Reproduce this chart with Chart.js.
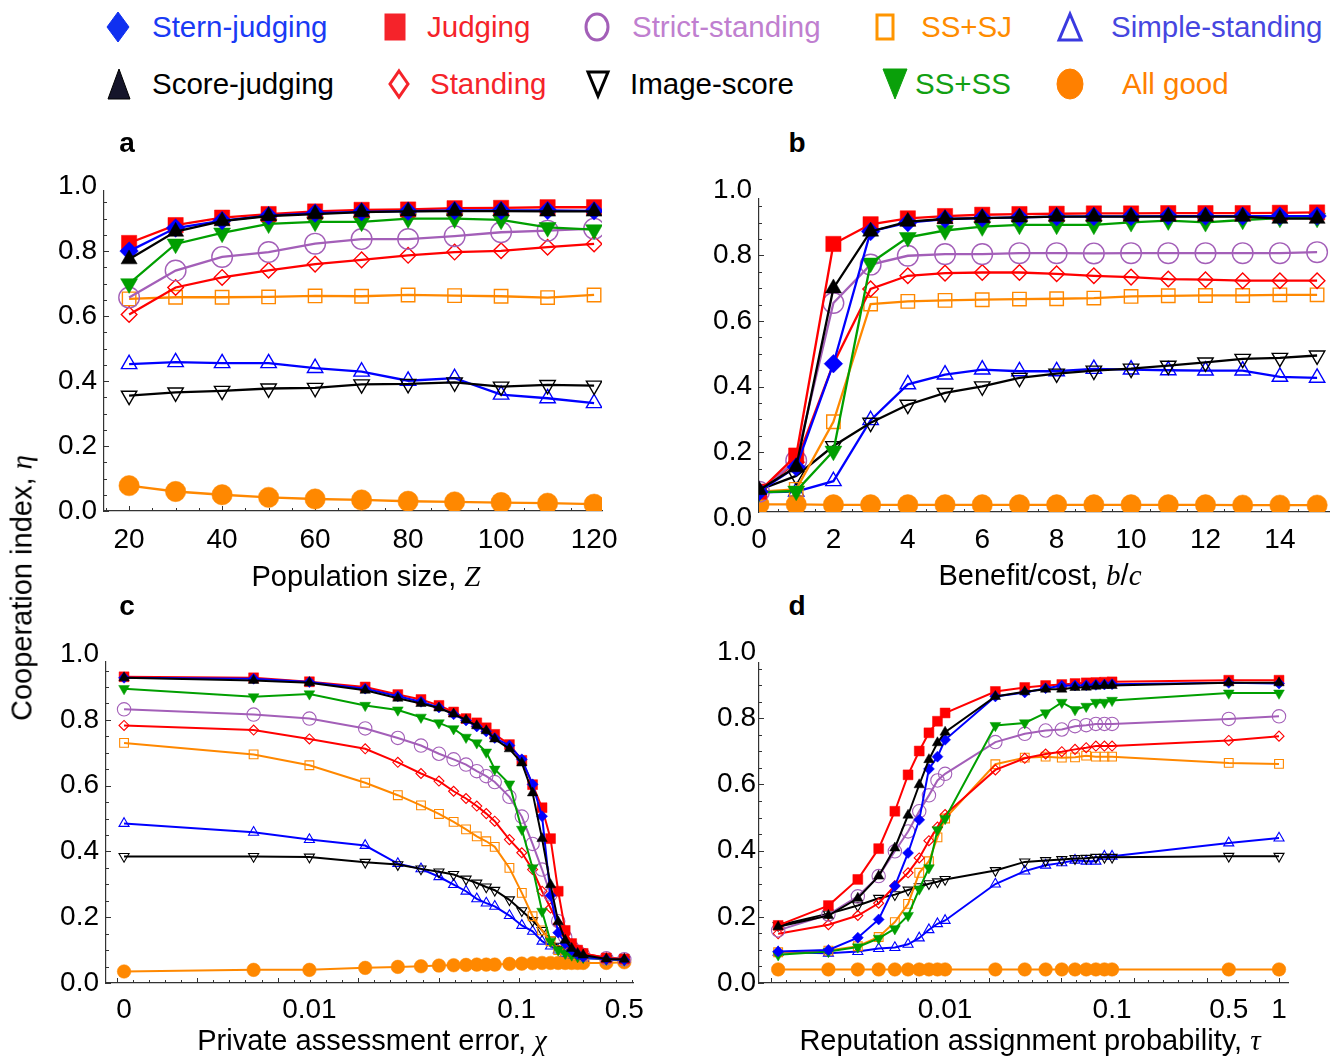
<!DOCTYPE html>
<html>
<head>
<meta charset="utf-8">
<title>Cooperation index</title>
<script src="https://cdn.jsdelivr.net/npm/chart.js@4.4.0/dist/chart.umd.min.js"></script>
<style>
  body { margin: 0; background: #fff; width: 1342px; height: 1057px; overflow: hidden; position: relative;
         font-family: "Liberation Sans", Arial, Helvetica, sans-serif; }
  canvas { position: absolute; }
  .txt { position: absolute; white-space: nowrap; transform: translate(-50%, -50%); font-size: 29px; color: #000; }
  .panel { font-weight: bold; font-size: 28px; }
  .math { font-family: "Liberation Serif", "Times New Roman", serif; font-style: italic; }
  .leg { position: absolute; white-space: nowrap; font-size: 29.5px; transform: translateY(-50%); }
  .mark { position: absolute; overflow: visible; }
</style>
</head>
<body>
<div id="legend"></div>
<canvas id="chart-a"></canvas>
<canvas id="chart-b"></canvas>
<canvas id="chart-c"></canvas>
<canvas id="chart-d"></canvas>

<div class="txt panel" style="left:127px; top:143px">a</div>
<div class="txt panel" style="left:797px; top:143px">b</div>
<div class="txt panel" style="left:127px; top:606px">c</div>
<div class="txt panel" style="left:797px; top:606px">d</div>

<div class="txt" style="left:366px; top:576px">Population size, <span class="math">Z</span></div>
<div class="txt" style="left:1040px; top:575px">Benefit/cost, <span class="math">b</span>/<span class="math">c</span></div>
<div class="txt" style="left:372px; top:1040px">Private assessment error, <span class="math">χ</span></div>
<div class="txt" style="left:1030px; top:1040px">Reputation assignment probability, <span class="math">τ</span></div>
<div class="txt" style="left:22px; top:588px; transform: translate(-50%, -50%) rotate(-90deg)">Cooperation index, <span class="math">η</span></div>

<script>
// x values of the four panels
const popSize = [20, 30, 40, 50, 60, 70, 80, 90, 100, 110, 120];
const benefitCost = [0, 1, 2, 3, 4, 5, 6, 7, 8, 9, 10, 11, 12, 13, 14, 15];
const chiErr = [0, 0.005, 0.01, 0.02, 0.03, 0.04, 0.05, 0.06, 0.07, 0.08, 0.09, 0.1,
                0.12, 0.14, 0.16, 0.18, 0.2, 0.22, 0.24, 0.26, 0.28, 0.3, 0.4, 0.5];
const tauProb = [0.001, 0.002, 0.003, 0.004, 0.005, 0.006, 0.007, 0.008, 0.009, 0.01,
                 0.02, 0.03, 0.04, 0.05, 0.06, 0.07, 0.08, 0.09, 0.1, 0.5, 1];
// on the log axis of panel c, chi = 0 is drawn where 0.001 would be
const chiZeroAt = 0.001;

// panel a - population size
const aStern    = [0.80, 0.871, 0.894, 0.909, 0.917, 0.921, 0.923, 0.925, 0.925, 0.925, 0.924];
const aJudging  = [0.825, 0.88, 0.903, 0.914, 0.922, 0.927, 0.928, 0.932, 0.933, 0.935, 0.935];
const aStrict   = [0.657, 0.74, 0.782, 0.797, 0.823, 0.837, 0.837, 0.846, 0.858, 0.863, 0.869];
const aSSSJ     = [0.653, 0.658, 0.658, 0.659, 0.662, 0.661, 0.665, 0.663, 0.661, 0.657, 0.665];
const aSimple   = [0.452, 0.458, 0.455, 0.455, 0.44, 0.429, 0.401, 0.409, 0.358, 0.347, 0.332];
const aScore    = [0.775, 0.86, 0.892, 0.908, 0.914, 0.92, 0.922, 0.923, 0.923, 0.922, 0.922];
const aStanding = [0.605, 0.688, 0.719, 0.741, 0.76, 0.773, 0.787, 0.797, 0.801, 0.812, 0.822];
const aImage    = [0.355, 0.365, 0.37, 0.377, 0.379, 0.39, 0.391, 0.396, 0.383, 0.388, 0.386];
const aSSSS     = [0.70, 0.822, 0.856, 0.884, 0.89, 0.89, 0.9, 0.9, 0.896, 0.873, 0.866];
const aAllGood  = [0.078, 0.06, 0.05, 0.042, 0.037, 0.034, 0.03, 0.028, 0.026, 0.024, 0.021];

// panel b - benefit/cost
const bStern    = [0.08, 0.155, 0.47, 0.873, 0.9, 0.911, 0.914, 0.916, 0.918, 0.919, 0.919, 0.92, 0.92, 0.92, 0.92, 0.92];
const bJudging  = [0.08, 0.19, 0.835, 0.895, 0.913, 0.92, 0.924, 0.926, 0.927, 0.928, 0.928, 0.929, 0.929, 0.929, 0.93, 0.931];
const bStrict   = [0.08, 0.175, 0.655, 0.772, 0.799, 0.804, 0.804, 0.807, 0.807, 0.806, 0.807, 0.807, 0.807, 0.807, 0.807, 0.81];
const bSSSJ     = [0.08, 0.087, 0.293, 0.652, 0.66, 0.663, 0.665, 0.667, 0.668, 0.67, 0.675, 0.677, 0.678, 0.678, 0.68, 0.68];
const bSimple   = [0.078, 0.08, 0.112, 0.298, 0.407, 0.437, 0.452, 0.447, 0.447, 0.454, 0.452, 0.45, 0.449, 0.449, 0.43, 0.427];
const bScore    = [0.085, 0.155, 0.70, 0.873, 0.903, 0.911, 0.914, 0.916, 0.918, 0.918, 0.918, 0.918, 0.918, 0.918, 0.912, 0.912];
const bStanding = [0.08, 0.17, 0.47, 0.698, 0.738, 0.746, 0.748, 0.748, 0.744, 0.738, 0.734, 0.728, 0.726, 0.723, 0.723, 0.723];
const bImage    = [0.085, 0.128, 0.219, 0.29, 0.345, 0.381, 0.401, 0.427, 0.44, 0.449, 0.455, 0.464, 0.474, 0.485, 0.488, 0.495];
const bSSSS     = [0.078, 0.082, 0.204, 0.777, 0.855, 0.876, 0.888, 0.893, 0.893, 0.893, 0.901, 0.906, 0.901, 0.908, 0.914, 0.914];
const bAllGood  = [0.041, 0.041, 0.04, 0.04, 0.04, 0.04, 0.04, 0.04, 0.04, 0.04, 0.04, 0.04, 0.04, 0.039, 0.039, 0.039];

// panel c - private assessment error
const cStern    = [0.928, 0.925, 0.915, 0.895, 0.872, 0.855, 0.838, 0.817, 0.798, 0.78, 0.765, 0.745, 0.722, 0.68, 0.604, 0.507, 0.266, 0.153, 0.12, 0.1, 0.087, 0.08, 0.072, 0.07];
const cJudging  = [0.931, 0.928, 0.916, 0.9, 0.877, 0.862, 0.844, 0.824, 0.804, 0.791, 0.776, 0.756, 0.725, 0.677, 0.603, 0.533, 0.439, 0.279, 0.16, 0.12, 0.1, 0.09, 0.076, 0.073];
const cStrict   = [0.832, 0.816, 0.804, 0.774, 0.745, 0.722, 0.697, 0.68, 0.664, 0.644, 0.629, 0.611, 0.566, 0.506, 0.423, 0.345, 0.269, 0.188, 0.14, 0.11, 0.095, 0.085, 0.075, 0.072];
const cSSSJ     = [0.73, 0.695, 0.662, 0.609, 0.571, 0.54, 0.514, 0.49, 0.467, 0.446, 0.431, 0.414, 0.35, 0.274, 0.203, 0.16, 0.127, 0.1, 0.09, 0.085, 0.08, 0.078, 0.072, 0.07];
const cSimple   = [0.485, 0.458, 0.436, 0.418, 0.363, 0.347, 0.323, 0.299, 0.279, 0.256, 0.243, 0.233, 0.205, 0.175, 0.157, 0.127, 0.112, 0.1, 0.09, 0.085, 0.08, 0.075, 0.072, 0.07];
const cScore    = [0.928, 0.92, 0.913, 0.89, 0.866, 0.85, 0.836, 0.818, 0.8, 0.782, 0.767, 0.742, 0.712, 0.669, 0.578, 0.439, 0.299, 0.186, 0.13, 0.105, 0.09, 0.085, 0.073, 0.072];
const cStanding = [0.783, 0.769, 0.742, 0.712, 0.671, 0.637, 0.614, 0.583, 0.561, 0.538, 0.515, 0.492, 0.436, 0.396, 0.345, 0.279, 0.228, 0.18, 0.15, 0.12, 0.1, 0.09, 0.077, 0.073];
const cImage    = [0.385, 0.385, 0.383, 0.367, 0.36, 0.347, 0.338, 0.33, 0.316, 0.304, 0.292, 0.282, 0.253, 0.22, 0.19, 0.16, 0.131, 0.112, 0.1, 0.09, 0.085, 0.08, 0.075, 0.072];
const cSSSS     = [0.895, 0.87, 0.879, 0.844, 0.83, 0.808, 0.791, 0.773, 0.747, 0.73, 0.702, 0.65, 0.605, 0.467, 0.35, 0.218, 0.127, 0.1, 0.09, 0.085, 0.08, 0.078, 0.072, 0.07];
const cAllGood  = [0.035, 0.04, 0.04, 0.046, 0.049, 0.051, 0.053, 0.054, 0.055, 0.056, 0.056, 0.056, 0.058, 0.059, 0.06, 0.061, 0.061, 0.061, 0.061, 0.061, 0.061, 0.061, 0.061, 0.063];

// panel d - reputation assignment probability
const dStern    = [0.095, 0.1, 0.137, 0.192, 0.293, 0.393, 0.493, 0.647, 0.684, 0.735, 0.866, 0.878, 0.891, 0.898, 0.899, 0.9, 0.901, 0.902, 0.903, 0.907, 0.905];
const dJudging  = [0.174, 0.234, 0.313, 0.406, 0.519, 0.629, 0.701, 0.756, 0.791, 0.816, 0.881, 0.893, 0.899, 0.902, 0.905, 0.907, 0.908, 0.909, 0.91, 0.915, 0.915];
const dStrict   = [0.159, 0.207, 0.262, 0.323, 0.398, 0.458, 0.519, 0.567, 0.612, 0.632, 0.728, 0.753, 0.763, 0.766, 0.776, 0.779, 0.783, 0.783, 0.783, 0.798, 0.806];
const dSSSJ     = [0.093, 0.098, 0.111, 0.139, 0.184, 0.239, 0.333, 0.368, 0.44, 0.497, 0.661, 0.681, 0.684, 0.681, 0.682, 0.687, 0.684, 0.684, 0.684, 0.665, 0.662];
const dSimple   = [0.093, 0.09, 0.095, 0.104, 0.107, 0.117, 0.136, 0.161, 0.179, 0.189, 0.299, 0.338, 0.356, 0.363, 0.371, 0.368, 0.368, 0.383, 0.383, 0.423, 0.438];
const dScore    = [0.17, 0.204, 0.256, 0.323, 0.408, 0.507, 0.599, 0.675, 0.726, 0.758, 0.866, 0.88, 0.888, 0.888, 0.893, 0.894, 0.897, 0.899, 0.899, 0.907, 0.907];
const dStanding = [0.149, 0.176, 0.204, 0.241, 0.294, 0.333, 0.378, 0.43, 0.471, 0.509, 0.644, 0.679, 0.692, 0.699, 0.706, 0.711, 0.716, 0.716, 0.716, 0.733, 0.746];
const dImage    = [0.174, 0.209, 0.234, 0.256, 0.267, 0.281, 0.291, 0.3, 0.306, 0.313, 0.34, 0.366, 0.37, 0.373, 0.376, 0.377, 0.38, 0.38, 0.38, 0.383, 0.383];
const dSSSS     = [0.085, 0.095, 0.109, 0.135, 0.164, 0.204, 0.284, 0.348, 0.463, 0.497, 0.778, 0.786, 0.816, 0.848, 0.826, 0.836, 0.848, 0.848, 0.854, 0.876, 0.876];
const dAllGood  = [0.041, 0.041, 0.041, 0.041, 0.041, 0.041, 0.041, 0.041, 0.041, 0.041, 0.041, 0.041, 0.041, 0.041, 0.041, 0.041, 0.041, 0.041, 0.041, 0.041, 0.041];

const yTickValues = [0, 0.2, 0.4, 0.6, 0.8, 1];
const yTickLabels = ['0.0', '0.2', '0.4', '0.6', '0.8', '1.0'];

const BLUE = '#0000ff', RED = '#ff0000', PURPLE = '#a35fb8', ORANGE = '#ff8800', GREEN = '#009f00', BLACK = '#000000';

// first entry is drawn on top (chart.js draws dataset 0 last)
const strategies = [
    { key: 'score',    label: 'Score-judging',   color: BLACK,  shape: 'triangle', rot: 0,   filled: true },
    { key: 'stern',    label: 'Stern-judging',   color: BLUE,   shape: 'rectRot',  rot: 0,   filled: true },
    { key: 'judging',  label: 'Judging',         color: RED,    shape: 'rect',     rot: 0,   filled: true },
    { key: 'ssss',     label: 'SS+SS',           color: GREEN,  shape: 'triangle', rot: 180, filled: true },
    { key: 'strict',   label: 'Strict-standing', color: PURPLE, shape: 'circle',   rot: 0,   filled: false },
    { key: 'standing', label: 'Standing',        color: RED,    shape: 'rectRot',  rot: 0,   filled: false },
    { key: 'sssj',     label: 'SS+SJ',           color: ORANGE, shape: 'rect',     rot: 0,   filled: false },
    { key: 'image',    label: 'Image-score',     color: BLACK,  shape: 'triangle', rot: 180, filled: false },
    { key: 'simple',   label: 'Simple-standing', color: BLUE,   shape: 'triangle', rot: 0,   filled: false },
    { key: 'allgood',  label: 'All good',        color: ORANGE, shape: 'circle',   rot: 0,   filled: true }
];

const bigMarks   = { score: 9.3, stern: 9.3, judging: 10.8, ssss: 9.8, strict: 10.3, standing: 7.8, sssj: 9.5, image: 8.9, simple: 8.9, allgood: 10.2 };
const smallMarks = { score: 6, stern: 5.5, judging: 7, ssss: 6.2, strict: 6.7, standing: 5, sssj: 6.2, image: 5.8, simple: 5.8, allgood: 6.8 };

const panels = [
    {
        id: 'chart-a', area: { l: 104, r: 602, t: 191, b: 511 }, padR: 24,
        xs: popSize,
        x: { min: 14.6, max: 121.7, minor: 5, major: 20, pad: 12, ticks: [20, 40, 60, 80, 100, 120], labels: ['20', '40', '60', '80', '100', '120'] },
        y: { min: 0, max: 0.985 }, yPad: 7,
        series: { stern: aStern, judging: aJudging, strict: aStrict, sssj: aSSSJ, simple: aSimple, score: aScore, standing: aStanding, image: aImage, ssss: aSSSS, allgood: aAllGood },
        marks: bigMarks, lineWidth: 2.3, openWidth: 1.4
    },
    {
        id: 'chart-b', area: { l: 759, r: 1329, t: 199, b: 512 }, padR: 12,
        xs: benefitCost,
        x: { min: 0, max: 15.32, minor: 0.5, major: 2, pad: 11, ticks: [0, 2, 4, 6, 8, 10, 12, 14], labels: ['0', '2', '4', '6', '8', '10', '12', '14'] },
        // the frame of this panel starts a little above zero, as in the source
        y: { min: 0.018, max: 0.972 }, yPad: 7,
        series: { stern: bStern, judging: bJudging, strict: bStrict, sssj: bSSSJ, simple: bSimple, score: bScore, standing: bStanding, image: bImage, ssss: bSSSS, allgood: bAllGood },
        marks: bigMarks, lineWidth: 2.3, openWidth: 1.4
    },
    {
        id: 'chart-c', area: { l: 106, r: 633, t: 662, b: 983 }, padR: 20,
        xs: chiErr.map(v => Math.log(v === 0 ? chiZeroAt : v)),
        // axis is linear in ln(chi); the "0.1" label sits a little right of its value in the source
        x: { min: -7.132, max: -0.585, minor: 0.2, major: 1, pad: 10,
             ticks: [Math.log(chiZeroAt), Math.log(0.01), -2.03, Math.log(0.5)], labels: ['0', '0.01', '0.1', '0.5'] },
        y: { min: 0, max: 0.976 }, yPad: 7,
        series: { stern: cStern, judging: cJudging, strict: cStrict, sssj: cSSSJ, simple: cSimple, score: cScore, standing: cStanding, image: cImage, ssss: cSSSS, allgood: cAllGood },
        marks: smallMarks, lineWidth: 2, openWidth: 1.1
    },
    {
        id: 'chart-d', area: { l: 759, r: 1288, t: 663, b: 983 }, padR: 30,
        xs: tauProb.map(v => Math.log(v)),
        x: { min: -7.172, max: 0.124, minor: 0.2, major: 1, pad: 10,
             ticks: [Math.log(0.01), Math.log(0.1), Math.log(0.5), Math.log(1)], labels: ['0.01', '0.1', '0.5', '1'] },
        y: { min: 0, max: 0.967 }, yPad: 3,
        series: { stern: dStern, judging: dJudging, strict: dStrict, sssj: dSSSJ, simple: dSimple, score: dScore, standing: dStanding, image: dImage, ssss: dSSSS, allgood: dAllGood },
        marks: smallMarks, lineWidth: 2, openWidth: 1.1
    }
];

// inward frame ticks like the original plots (long major, short minor)
const frameTicks = {
    id: 'frameTicks',
    beforeDatasetsDraw(chart, args, opts) {
        const { ctx, chartArea } = chart;
        const xs = chart.scales.x, ys = chart.scales.y;
        ctx.save();
        ctx.strokeStyle = '#333';
        ctx.lineWidth = 1;
        ctx.beginPath();
        const each = (scale, minor, major, fn) => {
            for (let k = Math.ceil(scale.min / minor - 1e-6); k * minor <= scale.max + 1e-9; k++) {
                const v = k * minor;
                const isMajor = Math.abs(v / major - Math.round(v / major)) < 1e-6;
                fn(scale.getPixelForValue(v), isMajor ? 5 : 3);
            }
        };
        each(xs, opts.x.minor, opts.x.major, (px, len) => {
            ctx.moveTo(Math.round(px) + 0.5, chartArea.bottom);
            ctx.lineTo(Math.round(px) + 0.5, chartArea.bottom - len);
        });
        each(ys, 0.05, 0.2, (py, len) => {
            ctx.moveTo(chartArea.left, Math.round(py) + 0.5);
            ctx.lineTo(chartArea.left + len, Math.round(py) + 0.5);
        });
        ctx.stroke();
        ctx.restore();
    }
};

Chart.defaults.font.family = '"Liberation Sans", Arial, Helvetica, sans-serif';
Chart.defaults.color = '#000';

const AXIS_W = 100, AXIS_H = 52, PAD_T = 34;

panels.forEach(p => {
    const canvas = document.getElementById(p.id);
    const w = (p.area.r - p.area.l) + AXIS_W + p.padR;
    const h = (p.area.b - p.area.t) + PAD_T + AXIS_H;
    canvas.width = w;
    canvas.height = h;
    canvas.style.left = (p.area.l - AXIS_W) + 'px';
    canvas.style.top = (p.area.t - PAD_T) + 'px';
    canvas.style.width = w + 'px';
    canvas.style.height = h + 'px';

    const datasets = strategies.map((s, i) => ({
        label: s.label,
        data: p.xs.map((x, j) => ({ x: x, y: p.series[s.key][j] })),
        borderColor: s.color,
        borderWidth: p.lineWidth,
        pointStyle: s.shape,
        pointRotation: s.rot,
        pointRadius: p.marks[s.key],
        pointBackgroundColor: s.filled ? s.color : 'rgba(0,0,0,0)',
        pointBorderColor: s.color,
        pointBorderWidth: s.filled ? 0.5 : p.openWidth,
        tension: 0,
        fill: false,
        order: i
    }));

    new Chart(canvas.getContext('2d'), {
        type: 'line',
        data: { datasets },
        options: {
            responsive: false,
            animation: false,
            devicePixelRatio: 1,
            events: [],
            layout: { padding: { left: 0, top: PAD_T, right: p.padR, bottom: 0 } },
            plugins: {
                legend: { display: false },
                tooltip: { enabled: false },
                frameTicks: { x: { minor: p.x.minor, major: p.x.major } }
            },
            scales: {
                x: {
                    type: 'linear',
                    min: p.x.min,
                    max: p.x.max,
                    grid: { display: false, drawTicks: false },
                    border: { display: true, color: '#333', width: 1.2 },
                    ticks: {
                        autoSkip: false, maxRotation: 0, minRotation: 0, padding: p.x.pad,
                        font: { size: 28 }, color: '#000',
                        callback: (v, i) => p.x.labels[i]
                    },
                    afterBuildTicks: scale => { scale.ticks = p.x.ticks.map(v => ({ value: v })); },
                    afterFit: scale => { scale.height = AXIS_H; scale.paddingLeft = 0; scale.paddingRight = 0; }
                },
                y: {
                    type: 'linear',
                    min: p.y.min,
                    max: p.y.max,
                    grid: { display: false, drawTicks: false },
                    border: { display: true, color: '#333', width: 1.2 },
                    ticks: {
                        autoSkip: false, padding: p.yPad,
                        font: { size: 28 }, color: '#000',
                        callback: (v, i) => yTickLabels[i]
                    },
                    afterBuildTicks: scale => { scale.ticks = yTickValues.map(v => ({ value: v })); },
                    afterFit: scale => { scale.width = AXIS_W; scale.paddingTop = 0; scale.paddingBottom = 0; }
                }
            }
        },
        plugins: [frameTicks]
    });
});

// legend on top, drawn as html with svg markers
const legendItems = [
    { text: 'Stern-judging',   tc: '#1a3af5', shape: 'diamond', filled: true,  color: '#1030f0', mx: 118,  tx: 152,  y: 27, w: 24, h: 32 },
    { text: 'Judging',         tc: '#f5232a', shape: 'square',  filled: true,  color: '#f5232a', mx: 395,  tx: 427,  y: 27, w: 22, h: 28 },
    { text: 'Strict-standing', tc: '#c07fd0', shape: 'circle',  filled: false, color: '#a35fb8', mx: 597,  tx: 632,  y: 27, w: 26, h: 30 },
    { text: 'SS+SJ',           tc: '#ff8c00', shape: 'square',  filled: false, color: '#ff9500', mx: 885,  tx: 921,  y: 27, w: 20, h: 28 },
    { text: 'Simple-standing', tc: '#4646e0', shape: 'triUp',   filled: false, color: '#3a3ae0', mx: 1070, tx: 1111, y: 27, w: 26, h: 30 },
    { text: 'Score-judging',   tc: '#000000', shape: 'triUp',   filled: true,  color: '#000000', fill: '#15152a', mx: 119, tx: 152, y: 84, w: 24, h: 32 },
    { text: 'Standing',        tc: '#f5232a', shape: 'diamond', filled: false, color: '#f5232a', mx: 399,  tx: 430,  y: 84, w: 22, h: 30 },
    { text: 'Image-score',     tc: '#000000', shape: 'triDown', filled: false, color: '#000000', mx: 598,  tx: 630,  y: 84, w: 24, h: 28 },
    { text: 'SS+SS',           tc: '#12a012', shape: 'triDown', filled: true,  color: '#0aa00a', mx: 895,  tx: 915,  y: 84, w: 26, h: 32 },
    { text: 'All good',        tc: '#ff8000', shape: 'circle',  filled: true,  color: '#ff8000', mx: 1070, tx: 1122, y: 84, w: 28, h: 32 }
];

function markerSvg(m) {
    const s = m.filled ? 1 : 3;
    const p = s / 2 + 0.5, w = m.w, h = m.h;
    const attrs = `fill="${m.filled ? (m.fill || m.color) : 'none'}" stroke="${m.color}" stroke-width="${s}"`;
    let shape = '';
    if (m.shape === 'diamond') shape = `<polygon points="${w / 2},${p} ${w - p},${h / 2} ${w / 2},${h - p} ${p},${h / 2}" ${attrs}/>`;
    if (m.shape === 'square') shape = `<rect x="${p}" y="${p}" width="${w - 2 * p}" height="${h - 2 * p}" ${attrs}/>`;
    if (m.shape === 'circle') shape = `<ellipse cx="${w / 2}" cy="${h / 2}" rx="${w / 2 - p}" ry="${h / 2 - p}" ${attrs}/>`;
    if (m.shape === 'triUp') shape = `<polygon points="${w / 2},${p} ${w - p},${h - p} ${p},${h - p}" ${attrs}/>`;
    if (m.shape === 'triDown') shape = `<polygon points="${p},${p} ${w - p},${p} ${w / 2},${h - p}" ${attrs}/>`;
    return `<svg class="mark" width="${w}" height="${h}" style="left:${m.mx - w / 2}px; top:${m.y - h / 2}px">${shape}</svg>`;
}

document.getElementById('legend').innerHTML = legendItems.map(m =>
    markerSvg(m) + `<div class="leg" style="left:${m.tx}px; top:${m.y}px; color:${m.tc}">${m.text}</div>`
).join('');
</script>
</body>
</html>
